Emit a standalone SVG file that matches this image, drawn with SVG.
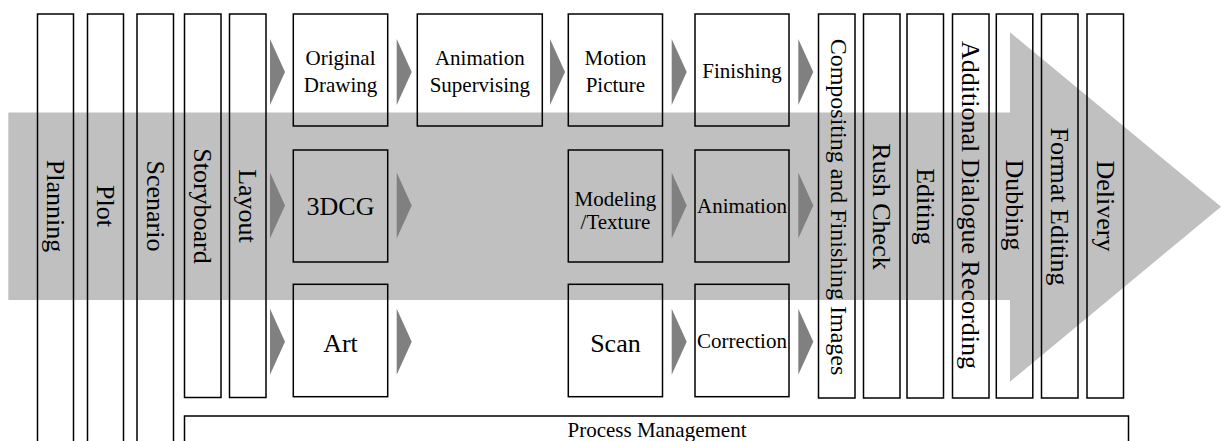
<svg xmlns="http://www.w3.org/2000/svg" width="1221" height="441" viewBox="0 0 1221 441">
<style>
.box{fill:none;stroke:#000;stroke-width:1.5}
.t{fill:#000;text-anchor:middle}
.v{font-size:26px}
.h{font-size:21px}
.b{font-size:26px}
.tri{fill:#808080}
</style>
<defs>
<polygon id="tri" points="0,-33 15,0 0,33" class="tri"/>
</defs>
<rect width="1221" height="441" fill="#fff"/>
<g id="flow-arrow">
<polygon points="8.3,112.5 1010,112.5 1010,32.3 1221,206.7 1010,381.7 1010,300 8.3,300" fill="#c0c0c0"/>
</g>
<g id="connectors">
<use href="#tri" x="270" y="72"/><use href="#tri" x="270" y="205.5"/><use href="#tri" x="270" y="341.7"/>
<use href="#tri" x="396.7" y="72"/><use href="#tri" x="396.7" y="205.5"/><use href="#tri" x="396.7" y="341.7"/>
<use href="#tri" x="550" y="72"/>
<use href="#tri" x="671.7" y="72"/><use href="#tri" x="671.7" y="205.5"/><use href="#tri" x="671.7" y="341.7"/>
<use href="#tri" x="798.3" y="72"/><use href="#tri" x="798.3" y="205.5"/><use href="#tri" x="798.3" y="341.7"/>
</g>
<g font-family="Liberation Serif, Times New Roman, DejaVu Serif, serif">
<g id="planning"><rect class="box" x="37.5" y="14" width="36" height="440"/><text class="t v" transform="translate(55.5,206) rotate(90)" y="8.5">Planning</text></g>
<g id="plot"><rect class="box" x="87.5" y="14" width="36" height="440"/><text class="t v" transform="translate(105.5,206) rotate(90)" y="8.5">Plot</text></g>
<g id="scenario"><rect class="box" x="137" y="14" width="36.5" height="440"/><text class="t v" transform="translate(155.2,206) rotate(90)" y="8.5">Scenario</text></g>
<g id="storyboard"><rect class="box" x="184.5" y="14" width="36.5" height="383.5"/><text class="t v" transform="translate(202.7,206) rotate(90)" y="8.5">Storyboard</text></g>
<g id="layout"><rect class="box" x="229.5" y="14" width="36.5" height="383.5"/><text class="t v" transform="translate(247.7,206) rotate(90)" y="8.5">Layout</text></g>
<g id="original-drawing"><rect class="box" x="293.3" y="14" width="94.4" height="112"/><text class="t h" x="340.5" y="64.5">Original</text><text class="t h" x="340.5" y="91.5">Drawing</text></g>
<g id="3dcg"><rect class="box" x="293.3" y="150" width="94.4" height="112"/><text class="t b" x="340.5" y="215">3DCG</text></g>
<g id="art"><rect class="box" x="293.3" y="284.3" width="94.4" height="112.4"/><text class="t b" x="340.5" y="351.5">Art</text></g>
<g id="animation-supervising"><rect class="box" x="417.3" y="14" width="125" height="112"/><text class="t h" x="479.8" y="64.5">Animation</text><text class="t h" x="479.8" y="91.5">Supervising</text></g>
<g id="motion-picture"><rect class="box" x="568.3" y="14" width="94.2" height="112"/><text class="t h" x="615.4" y="64.5">Motion</text><text class="t h" x="615.4" y="91.5">Picture</text></g>
<g id="modeling-texture"><rect class="box" x="568.3" y="150" width="94.2" height="112"/><text class="t h" x="615.4" y="205.5">Modeling</text><text class="t h" x="615.4" y="229">/Texture</text></g>
<g id="scan"><rect class="box" x="568.3" y="284.3" width="94.2" height="112.4"/><text class="t b" x="615.4" y="351.5">Scan</text></g>
<g id="finishing"><rect class="box" x="695" y="14" width="94" height="112"/><text class="t h" x="742" y="78">Finishing</text></g>
<g id="animation"><rect class="box" x="695" y="150" width="94" height="112"/><text class="t h" x="742" y="213">Animation</text></g>
<g id="correction"><rect class="box" x="695" y="284.3" width="94" height="112.4"/><text class="t h" x="742" y="347.5">Correction</text></g>
<g id="compositing"><rect class="box" x="818.5" y="14" width="36.5" height="384"/><text class="t" font-size="24" transform="translate(836.7,207) rotate(90)" y="6">Compositing and Finishing Images</text></g>
<g id="rush-check"><rect class="box" x="863.5" y="14" width="36.5" height="384"/><text class="t v" transform="translate(881.7,206.5) rotate(90)" y="8.5">Rush Check</text></g>
<g id="editing"><rect class="box" x="907" y="14" width="36.5" height="384"/><text class="t v" transform="translate(925.2,206.5) rotate(90)" y="8.5">Editing</text></g>
<g id="additional-dialogue-recording"><rect class="box" x="952.5" y="14" width="36.5" height="384"/><text class="t v" transform="translate(970.7,205) rotate(90)" y="8.5">Additional Dialogue Recording</text></g>
<g id="dubbing"><rect class="box" x="996.3" y="14" width="36.5" height="384"/><text class="t v" transform="translate(1014.5,205) rotate(90)" y="8.5">Dubbing</text></g>
<g id="format-editing"><rect class="box" x="1041.5" y="14" width="36.5" height="384"/><text class="t v" transform="translate(1059.7,206.5) rotate(90)" y="8.5">Format Editing</text></g>
<g id="delivery"><rect class="box" x="1087" y="14" width="36.5" height="384"/><text class="t v" transform="translate(1105.2,206) rotate(90)" y="8.5">Delivery</text></g>
<g id="process-management"><rect class="box" x="184.5" y="416" width="944" height="40"/><text class="t h" x="657" y="437">Process Management</text></g>
</g>
</svg>
